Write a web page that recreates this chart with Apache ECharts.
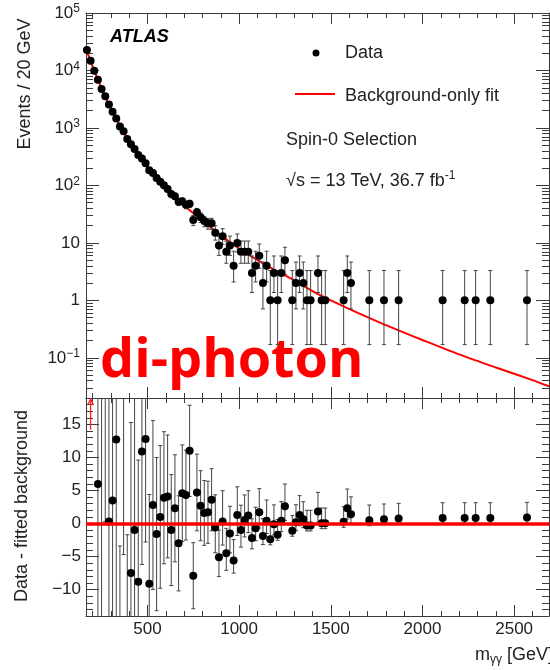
<!DOCTYPE html>
<html><head><meta charset="utf-8">
<script src="https://cdn.jsdelivr.net/npm/echarts@6/dist/echarts.min.js"></script>
<style>html,body{margin:0;padding:0;background:#fff}#c{width:550px;height:670px}</style>
</head><body><div id="c"></div><script>
// ---------------- data ----------------
const massBins = [170,190,210,230,250,270,290,310,330,350,370,390,410,430,450,470,490,510,530,550,570,590,610,630,650,670,690,710,730,750,770,790,810,830,850,870,890,910,930,950,970,990,1010,1030,1050,1070,1090,1110,1130,1150,1170,1190,1210,1230,1250,1290,1310,1330,1350,1370,1390,1430,1450,1470,1570,1590,1610,1710,1790,1870,2110,2230,2290,2370,2570];
const counts = [22700,14750,9880,6926,4750,3560,2560,1909,1458,1060,880,640,522,428,338,294,244,183,165,134,116,101,87,71,65,52,53,46,48,25,34,28,24,22,22,15,9,13,7,9,4,10,7,7,7,3,4,6,2,4,1,3,1,3,5,1,2,3,2,1,1,3,1,1,1,3,2,1,1,1,1,1,1,1,1];
const residuals = [1320,200,-120,6.0,-40,60,0.3,3.5,12.7,-36,25,-27,-7.5,-1.0,-8.8,10.9,12.8,-9.1,2.8,-1.6,1.0,3.9,4.1,-1.0,2.3,-3.0,4.6,4.3,11.0,-7.9,4.7,2.7,1.6,1.7,3.6,-0.6,-5.1,0.3,-4.5,-1.5,-5.6,1.3,-1.0,0.55,1.2,-2.2,-0.7,1.7,-1.9,0.4,-2.4,-0.1,-1.7,0.4,2.6,-1.1,0.2,1.3,0.66,-0.3,-0.3,1.8,0.05,0.05,0.25,2.3,1.4,0.5,0.65,0.75,0.85,0.85,0.85,0.85,0.9];
const errLow = [150.7,121.4,99.4,83.2,68.9,59.7,50.6,43.7,38.2,32.6,29.7,25.3,22.8,20.7,18.4,17.1,15.6,13.5,12.8,11.6,10.8,10.0,9.3,8.4,8.1,7.2,7.3,6.8,6.9,5.0,5.8,5.3,4.9,4.7,4.7,3.83,2.94,3.56,2.58,2.94,1.91,3.11,2.58,2.58,2.58,1.63,1.91,2.38,1.29,1.91,0.83,1.63,0.83,1.63,2.16,0.83,1.29,1.63,1.29,0.83,0.83,1.63,0.83,0.83,0.83,1.63,1.29,0.83,0.83,0.83,0.83,0.83,0.83,0.83,0.83];
const errHigh = [150.7,121.4,99.4,83.2,68.9,59.7,50.6,43.7,38.2,32.6,29.7,25.3,22.8,20.7,18.4,17.1,15.6,13.5,12.8,11.6,10.8,10.0,9.3,8.4,8.1,7.2,7.3,6.8,6.9,5.0,5.8,5.3,4.9,4.7,4.7,4.95,4.11,4.67,3.77,4.11,3.16,4.26,3.77,3.77,3.77,2.92,3.16,3.58,2.64,3.16,2.30,2.92,2.30,2.92,3.38,2.30,2.64,2.92,2.64,2.30,2.30,2.92,2.30,2.30,2.30,2.92,2.64,2.30,2.30,2.30,2.30,2.30,2.30,2.30,2.30];
const fitMass = [170,180,190,200,225,250,275,300,350,400,450,500,550,600,650,700,800,900,1000,1100,1200,1300,1400,1500,1600,1700,1800,1900,2000,2200,2400,2600,2690];
const fitValues = [21400,17700,14550,12000,7590,4790,3240,2190,1096,589,347,209,136,89,63,44.7,24.3,13.5,8.0,5.0,3.3,2.24,1.45,1.0,0.71,0.51,0.37,0.275,0.204,0.115,0.068,0.041,0.032];
const arrowBins = [190];

const xMajorTicks = [500,1000,1500,2000,2500];
const xTickLabels = ['500','1000','1500','2000','2500'];
const yTopMajorTicks = [0.1,1,10,100,1000,10000,100000];
const yTopTickLabels = ['10^−1','1','10','10^2','10^3','10^4','10^5'];
const yBotMajorTicks = [-10,-5,0,5,10,15];
const yBotTickLabels = ['\u221210','\u22125','0','5','10','15'];

// ---------------- setup ----------------
const X_MIN = 165, X_MAX = 2690;
const YT_MIN = 0.02, YT_MAX = 100000;
const YB_MIN = -14, YB_MAX = 19;
const AX = '#3a3a3a';
const FONT = '"Liberation Sans", Arial, sans-serif';

const xMinorTicks = [];
for (let v = 200; v <= 2600; v += 100) if (v % 500) xMinorTicks.push(v);
const yTopMinorTicks = [];
for (let d = -2; d <= 4; d++) for (let k = 2; k <= 9; k++) {
  const v = +(k * Math.pow(10, d)).toPrecision(3);
  if (v >= YT_MIN && v <= YT_MAX) yTopMinorTicks.push(v);
}
const yBotMinorTicks = [];
for (let v = YB_MIN; v <= YB_MAX; v++) if (v % 5) yBotMinorTicks.push(v);

function xAxisDef(gi, pos, ticks, len, major, labels) {
  return {
    type: 'value', gridIndex: gi, position: pos, min: X_MIN, max: X_MAX,
    axisLine: {show: major, onZero: false, lineStyle: {color: AX, width: 1}},
    axisTick: {show: true, inside: true, length: len, customValues: ticks, lineStyle: {color: AX, width: 1}},
    axisLabel: {show: labels, customValues: ticks, color: '#222', fontSize: 17, fontFamily: FONT, margin: 5,
      formatter: v => { const i = xMajorTicks.indexOf(v); return i >= 0 ? xTickLabels[i] : ''; }},
    splitLine: {show: false}
  };
}
function topLabel(v) {
  let i = yTopMajorTicks.findIndex(t => Math.abs(Math.log10(t) - Math.log10(v)) < 1e-6);
  if (i < 0) return '';
  const parts = yTopTickLabels[i].split('^');
  return parts.length > 1 ? '{b|' + parts[0] + '}{s|' + parts[1] + '}' : '{b|' + parts[0] + '}';
}
function yAxisDef(gi, pos, isTop, ticks, len, major, labels) {
  const base = {
    gridIndex: gi, position: pos,
    axisLine: {show: major, onZero: false, lineStyle: {color: AX, width: 1}},
    axisTick: {show: true, inside: true, length: len, customValues: ticks, lineStyle: {color: AX, width: 1}},
    splitLine: {show: false}
  };
  if (isTop) {
    Object.assign(base, {type: 'log', logBase: 10, min: YT_MIN, max: YT_MAX});
    base.axisLabel = {show: labels, customValues: ticks, margin: 6, formatter: topLabel,
      rich: {b: {fontSize: 17, fontFamily: FONT, color: '#222', lineHeight: 20},
             s: {fontSize: 12, fontFamily: FONT, color: '#222', lineHeight: 10, verticalAlign: 'top'}}};
  } else {
    Object.assign(base, {type: 'value', min: YB_MIN, max: YB_MAX});
    base.axisLabel = {show: labels, customValues: ticks, margin: 5, color: '#222', fontSize: 17, fontFamily: FONT,
      formatter: v => { const i = yBotMajorTicks.indexOf(v); return i >= 0 ? yBotTickLabels[i] : ''; }};
  }
  return base;
}

const xAxes = [], yAxes = [];
[0, 1].forEach(gi => {
  xAxes.push(xAxisDef(gi, 'bottom', xMajorTicks, 11, true, gi === 1));
  xAxes.push(xAxisDef(gi, 'bottom', xMinorTicks, 5, false, false));
  xAxes.push(xAxisDef(gi, 'top', xMajorTicks, 11, true, false));
  xAxes.push(xAxisDef(gi, 'top', xMinorTicks, 5, false, false));
  const isTop = gi === 0;
  const maj = isTop ? yTopMajorTicks : yBotMajorTicks;
  const min = isTop ? yTopMinorTicks : yBotMinorTicks;
  yAxes.push(yAxisDef(gi, 'left', isTop, maj, 13, true, true));
  yAxes.push(yAxisDef(gi, 'left', isTop, min, 7, false, false));
  yAxes.push(yAxisDef(gi, 'right', isTop, maj, 13, true, false));
  yAxes.push(yAxisDef(gi, 'right', isTop, min, 7, false, false));
});

function errorBarRender(params, api) {
  const x = api.value(0), lo = api.value(1), hi = api.value(2);
  const p1 = api.coord([x, lo]), p2 = api.coord([x, hi]);
  const cs = params.coordSys;
  const top = cs.y, bot = cs.y + cs.height;
  let yA = Math.max(Math.min(p1[1], p2[1]), top);
  let yB = Math.min(Math.max(p1[1], p2[1]), bot);
  if (yA >= yB) return null;
  const st = {stroke: '#444', lineWidth: 1};
  const children = [{type: 'line', shape: {x1: p1[0], y1: yA, x2: p1[0], y2: yB}, style: st}];
  const lowPix = Math.max(p1[1], p2[1]), highPix = Math.min(p1[1], p2[1]);
  if (highPix >= top) children.push({type: 'line', shape: {x1: p1[0] - 2, y1: highPix, x2: p1[0] + 2, y2: highPix}, style: st});
  if (lowPix <= bot) children.push({type: 'line', shape: {x1: p1[0] - 2, y1: lowPix, x2: p1[0] + 2, y2: lowPix}, style: st});
  return {type: 'group', children};
}

const topErr = massBins.map((m, i) => [m, counts[i] - errLow[i], counts[i] + errHigh[i]]);
const botErr = massBins.map((m, i) => [m, residuals[i] - errLow[i], residuals[i] + errHigh[i]]);

const option = {
  animation: false,
  backgroundColor: '#fff',
  grid: [
    {left: 86, top: 13, width: 463, height: 385},
    {left: 86, top: 398, width: 463, height: 218}
  ],
  xAxis: xAxes,
  yAxis: yAxes,
  series: [
    {type: 'line', xAxisIndex: 0, yAxisIndex: 0, data: fitMass.map((m, i) => [m, fitValues[i]]),
      smooth: 0.3, showSymbol: false, lineStyle: {color: '#ff0000', width: 2}, z: 2},
    {type: 'custom', xAxisIndex: 0, yAxisIndex: 0, data: topErr, renderItem: errorBarRender, z: 3},
    {type: 'scatter', xAxisIndex: 0, yAxisIndex: 0, data: massBins.map((m, i) => [m, counts[i]]),
      symbol: 'circle', symbolSize: 8, itemStyle: {color: '#000', opacity: 1}, z: 4},
    {type: 'custom', xAxisIndex: 4, yAxisIndex: 4, data: botErr, renderItem: errorBarRender, z: 3},
    {type: 'scatter', xAxisIndex: 4, yAxisIndex: 4, data: massBins.map((m, i) => [m, residuals[i]]),
      symbol: 'circle', symbolSize: 8, itemStyle: {color: '#000', opacity: 1}, z: 4, clip: true,
      markLine: {silent: true, symbol: 'none', label: {show: false},
        lineStyle: {color: '#ff0000', width: 3.5, type: 'solid', opacity: 1}, data: [{yAxis: 0}]}},
    {type: 'custom', xAxisIndex: 4, yAxisIndex: 4, data: arrowBins.map(m => [m]), z: 5,
      renderItem: (params, api) => {
        const p = api.coord([api.value(0), 14.2]);
        const top = params.coordSys.y + 1;
        const st = {stroke: '#ff2020', lineWidth: 1.3, fill: null};
        return {type: 'group', children: [
          {type: 'line', shape: {x1: p[0], y1: p[1], x2: p[0], y2: top}, style: st},
          {type: 'polyline', shape: {points: [[p[0] - 3, top + 6], [p[0], top], [p[0] + 3, top + 6]]}, style: st}
        ]};
      }}
  ],
  graphic: [
    {type: 'text', left: 110, top: 28, style: {text: 'ATLAS', font: 'italic bold 18px ' + FONT, fill: '#000'}},
    {type: 'circle', shape: {cx: 316, cy: 53, r: 3.5}, style: {fill: '#000'}},
    {type: 'text', x: 345, y: 53, style: {text: 'Data', font: '18px ' + FONT, fill: '#222', verticalAlign: 'middle'}},
    {type: 'line', shape: {x1: 295, y1: 94, x2: 335, y2: 94}, style: {stroke: '#ff0000', lineWidth: 2}},
    {type: 'text', x: 345, y: 96, style: {text: 'Background-only fit', font: '18px ' + FONT, fill: '#222', verticalAlign: 'middle'}},
    {type: 'text', x: 286, y: 140, style: {text: 'Spin-0 Selection', font: '18px ' + FONT, fill: '#222', verticalAlign: 'middle'}},
    {type: 'text', x: 286, y: 181, style: {text: '{a|\u221As = 13 TeV, 36.7 fb}{s|-1}', verticalAlign: 'middle',
      rich: {a: {fontSize: 18, fontFamily: FONT, fill: '#222', lineHeight: 22}, s: {fontSize: 12, fontFamily: FONT, fill: '#222', lineHeight: 12, verticalAlign: 'top'}}}},
    {type: 'text', x: 100, y: 362, style: {text: 'di-photon', font: 'bold 54px "Open Sans", sans-serif', fill: '#ff0000', verticalAlign: 'middle'}},
    {type: 'text', x: 25, y: 84, rotation: Math.PI / 2, style: {text: 'Events / 20 GeV', font: '18px ' + FONT, fill: '#222', align: 'center', verticalAlign: 'middle'}},
    {type: 'text', x: 22, y: 506, rotation: Math.PI / 2, style: {text: 'Data - fitted background', font: '18px ' + FONT, fill: '#222', align: 'center', verticalAlign: 'middle'}},
    {type: 'text', x: 553, y: 655, style: {text: '{m|m}{s|\u03B3\u03B3}{m| [GeV]}', align: 'right', verticalAlign: 'middle',
      rich: {m: {fontSize: 18, fontFamily: FONT, fill: '#222', lineHeight: 22}, s: {fontSize: 12, fontFamily: FONT, fill: '#222', lineHeight: 10, verticalAlign: 'bottom'}}}}
  ]
};
const chart = echarts.init(document.getElementById('c'), null, {renderer: 'canvas'});
chart.setOption(option);
</script></body></html>
